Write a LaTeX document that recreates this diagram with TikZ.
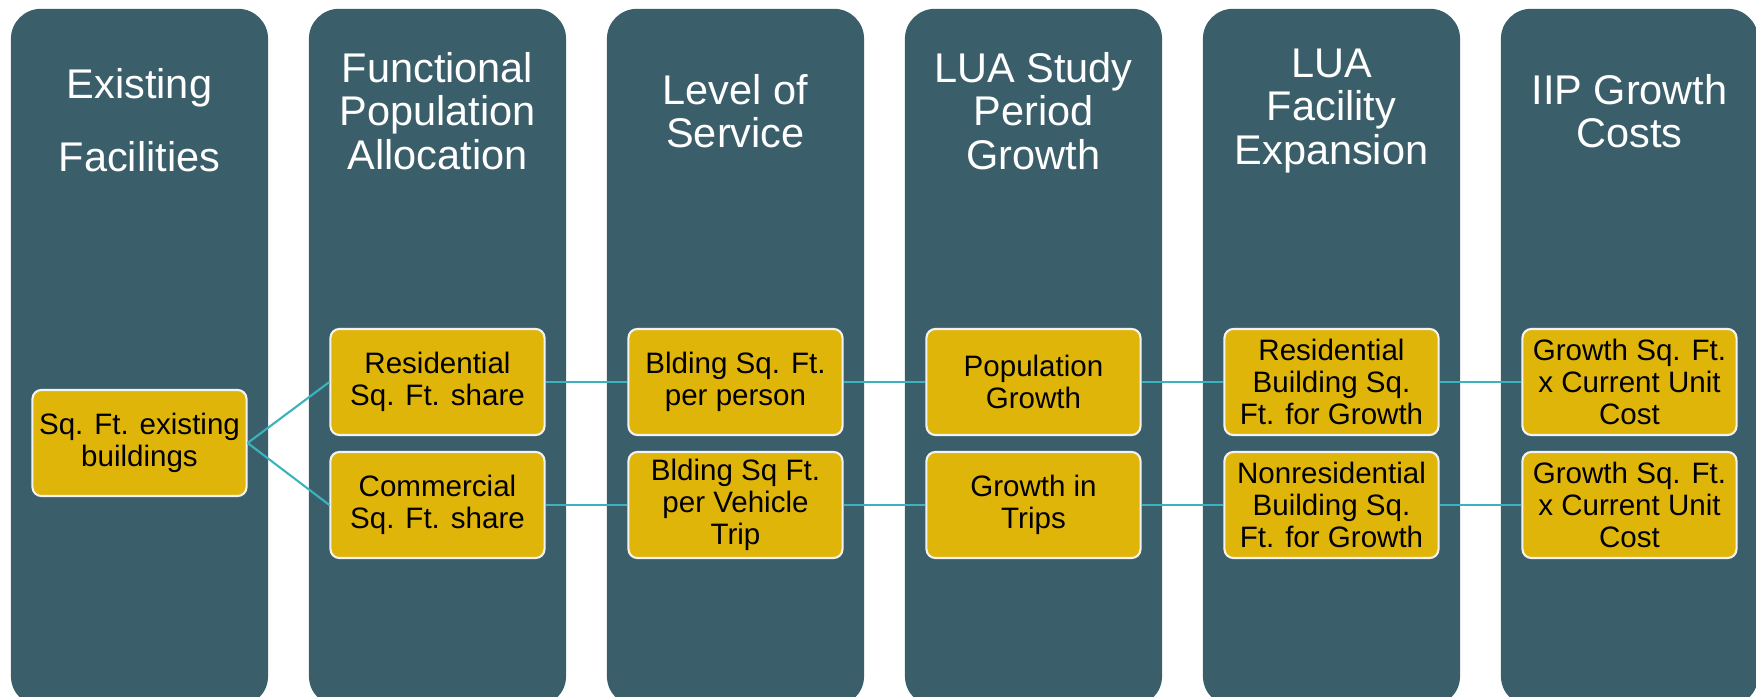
\documentclass[tikz,border=0pt]{standalone}
\usepackage{fontspec}
\setmainfont{Liberation Sans}

\definecolor{colfill}{RGB}{59,95,106}
\definecolor{boxfill}{RGB}{224,181,10}
\definecolor{linkteal}{RGB}{59,179,190}

\begin{document}
\begin{tikzpicture}[
        x=0.01cm, y=-0.01cm,
        column/.style={rectangle, rounded corners=0.3cm, fill=colfill, minimum width=2.57cm, minimum height=6.97cm, inner sep=0pt},
        header/.style={text=white, align=center, font=\fontsize{11.8}{12.4}\selectfont},
        stepbox/.style={rectangle, rounded corners=0.09cm, fill=boxfill, draw=gray!10, line width=0.6pt, minimum width=2.14cm, minimum height=1.06cm, inner sep=1pt, align=center, font=\fontsize{8.4}{9.1}\selectfont},
        link/.style={linkteal, line width=0.6pt},
    ]

        \useasboundingbox (0, 0) rectangle (1756, 697);
        \clip (0, 0) rectangle (1756, 697);

        % columns
        \foreach \i in {1,...,6} {
            \node[column] (col\i) at ({139.5+298*(\i-1)}, 357.5) {};
        }

        % column titles
        \node[header] (h1) at (139.5, 120) {Existing\\[0.29cm]Facilities};
        \node[header] (h2) at (437.5, 111) {Functional\\Population\\Allocation};
        \node[header] (h3) at (735.5, 111) {Level of\\Service};
        \node[header] (h4) at (1033.5, 111) {LUA Study\\Period\\Growth};
        \node[header] (h5) at (1331.5, 111) {LUA\\Facility\\Expansion};
        \node[header] (h6) at (1629.5, 111) {IIP Growth\\Costs};

        % boxes
        \node[stepbox] (exist) at (139.5, 443) {Sq. Ft. existing\\buildings};

        \node[stepbox] (res2) at (437.5, 382) {Residential\\Sq. Ft. share};
        \node[stepbox] (res3) at (735.5, 382) {Blding Sq. Ft.\\per person};
        \node[stepbox] (res4) at (1033.5, 382) {Population\\Growth};
        \node[stepbox] (res5) at (1331.5, 382) {Residential\\Building Sq.\\Ft. for Growth};
        \node[stepbox] (res6) at (1629.5, 382) {Growth Sq. Ft.\\x Current Unit\\Cost};

        \node[stepbox] (com2) at (437.5, 505) {Commercial\\Sq. Ft. share};
        \node[stepbox] (com3) at (735.5, 505) {Blding Sq Ft.\\per Vehicle\\Trip};
        \node[stepbox] (com4) at (1033.5, 505) {Growth in\\Trips};
        \node[stepbox] (com5) at (1331.5, 505) {Nonresidential\\Building Sq.\\Ft. for Growth};
        \node[stepbox] (com6) at (1629.5, 505) {Growth Sq. Ft.\\x Current Unit\\Cost};

        % links
        \draw[link] (exist.east) -- (res2.west);
        \draw[link] (exist.east) -- (com2.west);
        \foreach \a/\b in {2/3, 3/4, 4/5, 5/6} {
            \draw[link] (res\a.east) -- (res\b.west);
            \draw[link] (com\a.east) -- (com\b.west);
        }
    \end{tikzpicture}
\end{document}
